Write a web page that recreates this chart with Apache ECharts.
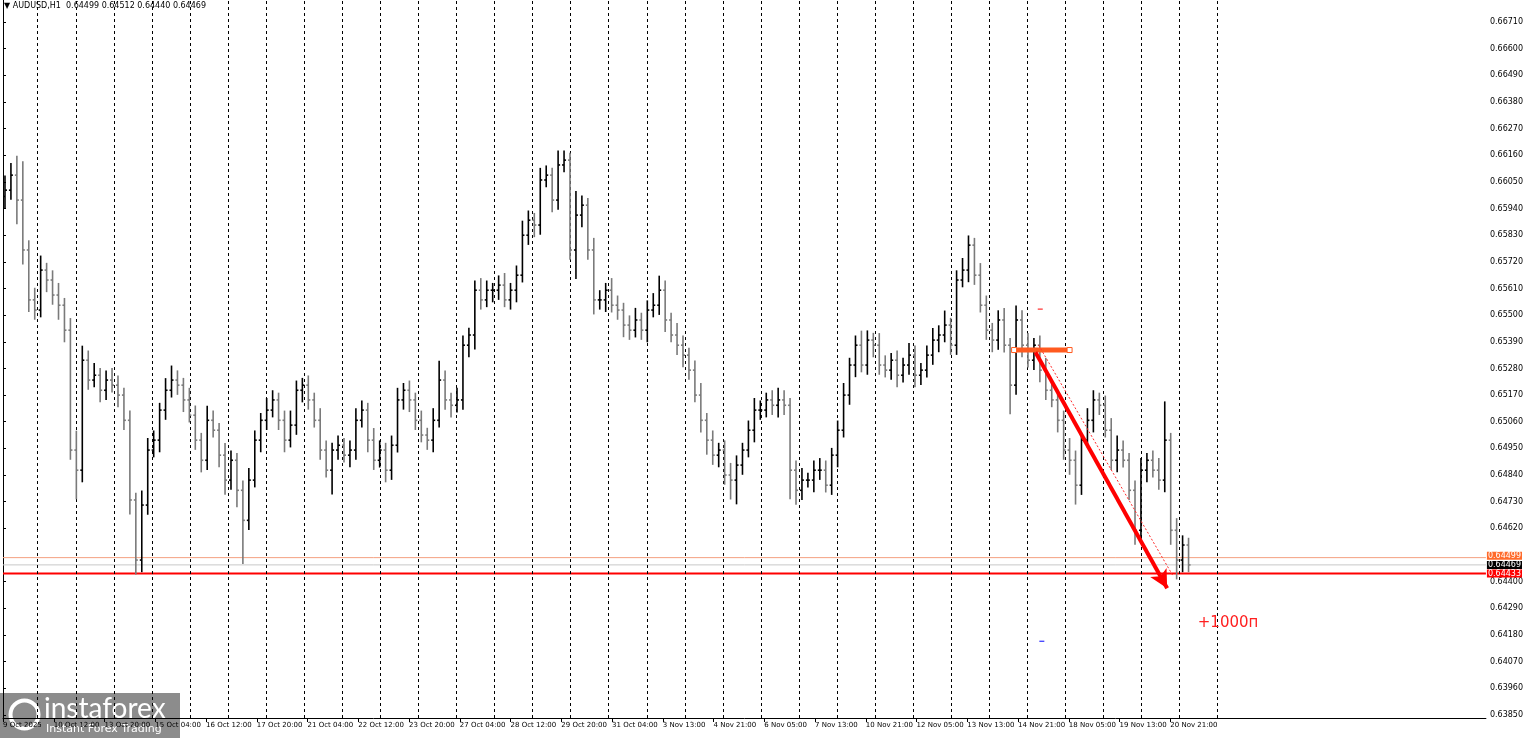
<!DOCTYPE html>
<html><head><meta charset="utf-8">
<script src="https://cdn.jsdelivr.net/npm/echarts@6/dist/echarts.min.js"></script>
<style>html,body{margin:0;padding:0;background:#fff}#c{width:1526px;height:738px}</style>
</head><body><div id="c"></div>
<script>
// 4-hour bar closes (AUDUSD)
const closes = [
0.66016,0.66078,0.65975,0.65769,0.65563,0.65521,0.65686,0.65645,0.65583,0.65541,
0.65438,0.64943,0.64860,0.65314,0.65232,0.65252,0.65190,0.65232,0.65211,0.65170,
0.65066,0.64737,0.64489,0.64716,0.64943,0.64984,0.65108,0.65190,0.65232,0.65211,
0.65150,0.65087,0.64984,0.64901,0.65066,0.65025,0.64922,0.64819,0.64901,0.64777,
0.64653,0.64819,0.64984,0.65066,0.65108,0.65150,0.65066,0.64984,0.65046,0.65190,
0.65211,0.65150,0.65066,0.64943,0.64860,0.64943,0.64963,0.64922,0.64943,0.65066,
0.65108,0.64984,0.64901,0.64943,0.64860,0.64963,0.65150,0.65190,0.65150,0.65066,
0.65005,0.64984,0.65066,0.65232,0.65150,0.65128,0.65150,0.65376,0.65418,0.65603,
0.65563,0.65603,0.65603,0.65624,0.65563,0.65603,0.65665,0.65830,0.65892,0.65872,
0.66058,0.66078,0.65975,0.66120,0.66140,0.65769,0.65913,0.65954,0.65769,0.65563,
0.65563,0.65603,0.65541,0.65521,0.65459,0.65438,0.65480,0.65438,0.65521,0.65541,
0.65603,0.65480,0.65418,0.65376,0.65335,0.65273,0.65170,0.65066,0.64984,0.64922,
0.64943,0.64840,0.64819,0.64881,0.64943,0.65025,0.65108,0.65108,0.65150,0.65128,
0.65150,0.65128,0.64860,0.64777,0.64819,0.64819,0.64860,0.64860,0.64798,0.64922,
0.65025,0.65170,0.65294,0.65376,0.65294,0.65397,0.65376,0.65294,0.65273,0.65314,
0.65252,0.65294,0.65335,0.65252,0.65273,0.65335,0.65397,0.65418,0.65459,0.65376,
0.65645,0.65686,0.65789,0.65665,0.65541,0.65438,0.65397,0.65480,0.65376,0.65211,
0.65480,0.65376,0.65314,0.65376,0.65273,0.65190,0.65150,0.65066,0.64943,0.64901,
0.64798,0.64984,0.65066,0.65150,0.65128,0.65025,0.64901,0.64943,0.64901,0.64777,
0.64612,0.64860,0.64901,0.64860,0.64819,0.64984,0.64612,0.64489,0.64551,0.64469];
// upper / lower wick sizes in pips
const wickUp = [
6,5,8,16,4,5,6,3,4,5, 3,5,8,6,4,5,3,4,5,4, 3,4,3,6,5,4,3,5,6,4, 3,5,4,3,6,4,3,5,4,3,
4,5,4,3,5,4,3,4,6,4, 3,4,3,5,4,3,4,3,4,5, 4,3,5,4,3,4,5,3,4,3, 4,3,5,8,4,3,5,4,3,4,
5,4,3,4,5,3,4,6,4,3, 5,4,3,6,4,3,10,4,3,5, 4,3,5,4,3,4,5,3,4,5, 6,4,3,5,4,3,4,5,3,4,
3,4,5,4,3,4,5,4,3,4, 5,4,3,4,5,3,4,5,4,3, 4,5,3,4,6,4,3,5,4,3, 4,3,5,4,3,4,5,4,6,3,
4,5,4,3,5,4,3,4,5,3, 6,4,5,3,4,5,4,3,4,5, 4,3,5,4,3,4,5,6,4,3, 4,5,3,4,5,16,3,5,4,3];
const wickDn = [
5,4,10,6,5,4,3,5,4,6, 5,4,12,5,4,3,5,4,3,5, 4,6,6,5,4,3,5,4,3,4, 5,3,4,5,4,3,5,6,4,7,
18,4,3,5,4,3,4,5,3,4, 5,4,3,4,3,10,4,3,5,4, 3,5,4,3,5,4,3,4,5,4, 3,4,5,3,4,5,3,4,5,6,
4,3,5,4,3,4,5,3,4,5, 4,3,5,4,3,4,12,5,4,6, 4,5,3,4,5,4,3,4,5,3, 4,5,3,4,5,4,3,5,6,4,
5,4,8,10,4,3,5,4,3,4, 5,4,12,6,4,3,5,4,3,4, 5,3,4,5,3,4,5,4,3,4, 5,3,4,5,4,3,4,5,3,4,
4,3,5,4,3,4,5,4,3,12, 4,5,3,4,5,4,3,5,4,6, 8,4,3,5,4,3,4,5,3,4, 6,4,5,3,4,5,6,8,5,3];
const firstOpen = 0.65990;
const xTickLabels = ["9 Oct 2025","10 Oct 12:00","13 Oct 20:00","15 Oct 04:00","16 Oct 12:00","17 Oct 20:00",
"21 Oct 04:00","22 Oct 12:00","23 Oct 20:00","27 Oct 04:00","28 Oct 12:00","29 Oct 20:00","31 Oct 04:00",
"3 Nov 13:00","4 Nov 21:00","6 Nov 05:00","7 Nov 13:00","10 Nov 21:00","12 Nov 05:00","13 Nov 13:00",
"14 Nov 21:00","18 Nov 05:00","19 Nov 13:00","20 Nov 21:00"];
const yTicks = [0.6671,0.6660,0.6649,0.6638,0.6627,0.6616,0.6605,0.6594,0.6583,0.6572,0.6561,0.6550,0.6539,
0.6528,0.6517,0.6506,0.6495,0.6484,0.6473,0.6462,0.6440,0.6429,0.6418,0.6407,0.6396,0.6385];
const levels = {ask:0.64499, bid:0.64469, target:0.64433};
const arrowLine = [[651,0.65347],[734,0.64373]];
const dashLine = [[653,0.65376],[737.5,0.64426]];
const entryLine = [[637.5,0.65356],[672.5,0.65356]];
const profitText = [753,0.64228,"+1000п"];
const X_MAX = 935;

const HOURS_PER_BAR = 3.75, H0 = 1.25;
const bars = closes.map((c,i)=>{
  const o = i===0 ? firstOpen : closes[i-1];
  const h = Math.max(o,c) + wickUp[i]*0.0001;
  const l = Math.min(o,c) - wickDn[i]*0.0001;
  return [H0 + i*HOURS_PER_BAR, o, c, l, h];
});
const dayLines = []; for (let k=0;k<32;k++) dayLines.push({xAxis: 21.9 + 24*k});
const xTickVals = xTickLabels.map((_,i)=>i*32);
const levelSeries = (v,lineCol,w,bg,off,z)=>({type:'line',data:[[0,v],[X_MAX,v]],symbol:'none',z:z,silent:true,
  lineStyle:{color:lineCol,width:w},
  endLabel:{show:true,formatter:v.toFixed(5),backgroundColor:bg,color:'#fff',fontSize:8,fontFamily:'DejaVu Sans',
    padding:[0,1],distance:1,offset:off}});

const chart = echarts.init(document.getElementById('c'));
chart.setOption({
  animation:false,
  grid:{left:2,right:30,top:0,bottom:20},
  xAxis:{type:'value',min:0,max:X_MAX,
    axisLine:{lineStyle:{color:'#000'}},splitLine:{show:false},
    axisTick:{customValues:xTickVals,length:4,lineStyle:{color:'#000'}},
    axisLabel:{customValues:xTickVals,fontSize:7,color:'#000',fontFamily:'DejaVu Sans',align:'left',margin:4,
      formatter:v=>xTickLabels[Math.round(v/32)]||''}},
  yAxis:{type:'value',position:'right',min:0.63837,max:0.66801,
    axisLine:{show:true,lineStyle:{color:'#000'}},splitLine:{show:false},
    axisTick:{show:true,customValues:yTicks,length:3,lineStyle:{color:'#000'}},
    axisLabel:{customValues:yTicks,fontSize:8,color:'#000',fontFamily:'DejaVu Sans',margin:4,formatter:v=>v.toFixed(5)}},
  graphic:[
    {type:'text',left:4,top:2,style:{text:'▼ AUDUSD,H1  0.64499 0.64512 0.64440 0.64469',fontSize:8,fill:'#000',fontFamily:'DejaVu Sans'}},
    {type:'rect',left:0,top:693,shape:{width:180,height:45},style:{fill:'rgba(120,120,120,0.85)'}},
    {type:'circle',left:8,top:698,shape:{r:14},style:{fill:'none',stroke:'#fff',lineWidth:4}},
    {type:'text',left:44,top:695,style:{text:'instaforex',fontSize:28,fill:'#fff',fontFamily:'Lato'}},
    {type:'text',left:46,top:724,style:{text:'Instant Forex Trading',fontSize:11,fill:'#fff',fontFamily:'DejaVu Sans'}}
  ],
  series:[
    {type:'custom',data:bars,encode:{x:0,y:[1,2,3,4]},z:5,
      renderItem:(params,api)=>{
        const x=api.value(0),o=api.value(1),c=api.value(2),l=api.value(3),h=api.value(4);
        const po=api.coord([x,o]),pc=api.coord([x,c]),pl=api.coord([x,l]),ph=api.coord([x,h]);
        const col = c>=o ? '#000' : '#7a7a7a';
        const st={stroke:col,lineWidth:1.6};
        return {type:'group',children:[
          {type:'line',shape:{x1:pl[0],y1:pl[1],x2:ph[0],y2:ph[1]},style:st},
          {type:'line',shape:{x1:po[0]-2,y1:po[1],x2:po[0],y2:po[1]},style:st},
          {type:'line',shape:{x1:pc[0],y1:pc[1],x2:pc[0]+2,y2:pc[1]},style:st}]};
      },
      markLine:{silent:true,symbol:'none',animation:false,label:{show:false},
        lineStyle:{color:'#000',type:[3,3],width:1},data:dayLines}},
    levelSeries(levels.ask,'#f4a080',1,'#ff6a2a',[0,-2],3),
    levelSeries(levels.bid,'#c8c8c8',1,'#000',[0,0],3),
    levelSeries(levels.target,'#ff0000',2,'#ff0000',[0,0],4),
    {type:'line',data:entryLine,z:7,symbol:'rect',symbolSize:5,showSymbol:true,
      itemStyle:{color:'#fff',borderColor:'#ff5a1f',borderWidth:1},lineStyle:{color:'#ff5a1f',width:5}},
    {type:'line',data:dashLine,z:7,symbol:'none',lineStyle:{color:'#ff2a2a',width:1,type:[2,2]}},
    {type:'line',data:arrowLine,z:8,symbol:'none',lineStyle:{color:'#ff0000',width:4},
      markPoint:{silent:true,animation:false,
        data:[
          {coord:arrowLine[1],symbol:'arrow',symbolSize:[14,18],symbolRotate:209,itemStyle:{color:'#ff0000'},label:{show:false}},
          {coord:[profitText[0],profitText[1]],symbol:'rect',symbolSize:1,itemStyle:{color:'transparent'},
            label:{show:true,formatter:profitText[2],color:'#ff2020',fontSize:15,fontFamily:'DejaVu Sans',position:'right',distance:0}},
          {coord:[654,0.65525],symbol:'rect',symbolSize:[5,1],itemStyle:{color:'#ff0000'},label:{show:false}},
          {coord:[655,0.64154],symbol:'rect',symbolSize:[5,1],itemStyle:{color:'#0000ff'},label:{show:false}}
        ]}}
  ]
});
</script></body></html>
